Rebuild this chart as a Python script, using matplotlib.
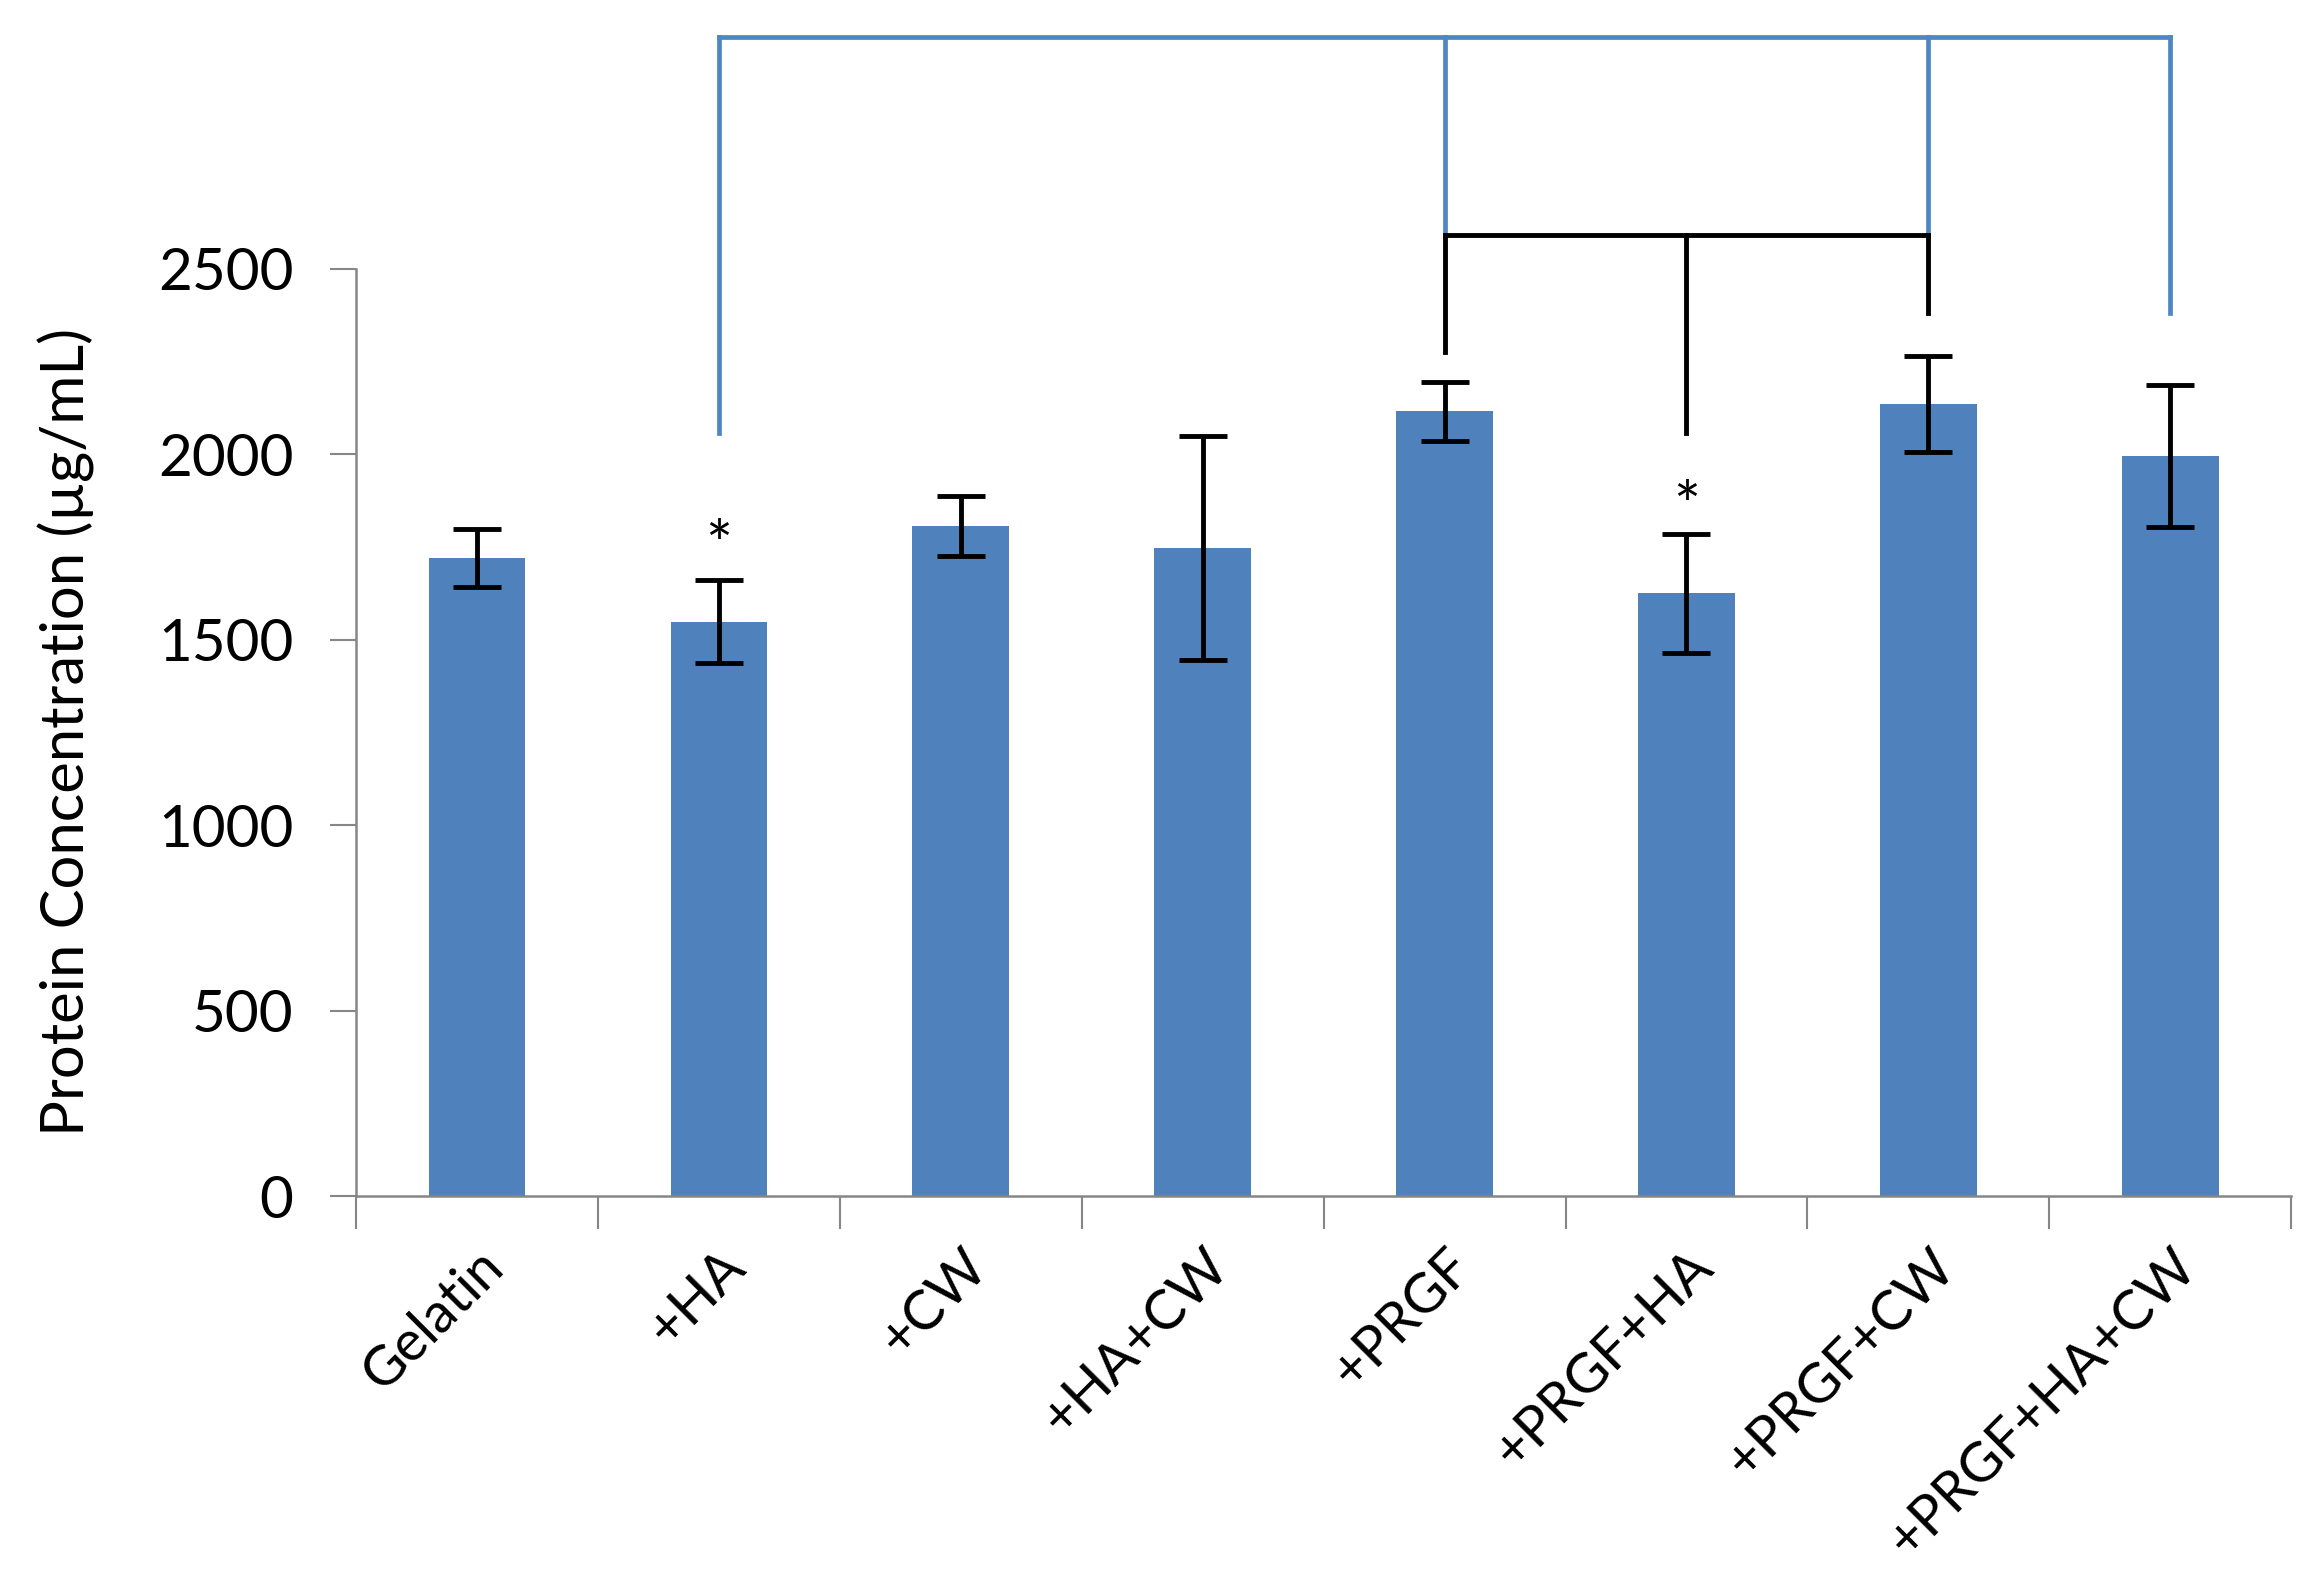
import matplotlib
matplotlib.use("Agg")
from matplotlib import pyplot as plt
import numpy as np

groups = ['Gelatin', '+HA', '+CW', '+HA+CW', '+PRGF', '+PRGF+HA', '+PRGF+CW', '+PRGF+HA+CW']
means = [1720, 1548, 1806, 1746, 2115, 1625, 2135, 1995]
errs = [78, 112, 80, 302, 80, 160, 130, 192]
star_idx = [1, 5]
star_y = [1745, 1850]

# significance brackets (category index, value where the drop ends)
blue_top = 3125
blue_drops = [(1, 2056), (4, 2591), (6, 2591), (7, 2381)]
black_top = 2591
black_drops = [(4, 2274), (5, 2056), (6, 2381)]

plt.rcParams['font.family'] = ['Lato', 'DejaVu Sans']

fig = plt.figure(figsize=(23.05, 15.8), dpi=100)
ax = fig.add_axes([0.1545, 0.243, 0.8395, 0.587])

x = np.arange(len(groups))
ax.bar(x, means, width=0.4, color='#4F81BD', zorder=2)
ax.errorbar(x, means, yerr=errs, fmt='none', ecolor='black', elinewidth=3.5,
            capsize=17, capthick=3.5, zorder=3)

for i, y in zip(star_idx, star_y):
    ax.text(i, y, '*', ha='center', va='center', fontsize=46, color='black')

blue = '#4F86C6'
ax.plot([blue_drops[0][0], blue_drops[-1][0]], [blue_top, blue_top], color=blue, lw=3.4, clip_on=False)
for i, y in blue_drops:
    ax.plot([i, i], [blue_top, y], color=blue, lw=3.4, clip_on=False)

ax.plot([black_drops[0][0], black_drops[-1][0]], [black_top, black_top], color='black', lw=3.5, clip_on=False)
for i, y in black_drops:
    ax.plot([i, i], [black_top, y], color='black', lw=3.5, clip_on=False)

ax.set_xlim(-0.5, len(groups) - 0.5)
ax.set_ylim(0, 2500)
ax.set_yticks([0, 500, 1000, 1500, 2000, 2500])
ax.tick_params(axis='y', labelsize=42, length=19, width=1.5, color='#868686', pad=26)

ax.set_xticks(x)
ax.set_xticklabels(groups, rotation=45, ha='right', rotation_mode='anchor', fontsize=40)
ax.tick_params(axis='x', which='major', length=0, pad=32)
ax.set_xticks(np.arange(len(groups) + 1) - 0.5, minor=True)
ax.tick_params(axis='x', which='minor', length=24, width=1.5, color='#868686')

for s in ['top', 'right']:
    ax.spines[s].set_visible(False)
for s in ['left', 'bottom']:
    ax.spines[s].set_color('#868686')
    ax.spines[s].set_linewidth(1.8)

ax.set_ylabel('Protein Concentration (µg/mL)', fontsize=43)
ax.yaxis.set_label_coords(-0.135, 0.5)

fig.savefig('out.png', dpi=100)
